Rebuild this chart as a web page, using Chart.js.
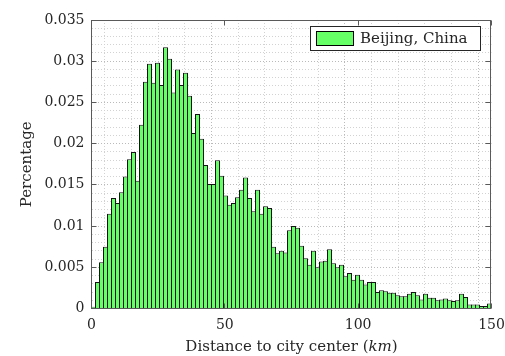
<!DOCTYPE html>
<html>
<head>
<meta charset="utf-8">
<script src="https://cdn.jsdelivr.net/npm/chart.js@4.4.1/dist/chart.umd.min.js"></script>
<style>
  html, body { margin: 0; padding: 0; background: #fff; }
  canvas { display: block; }
</style>
</head>
<body>
<canvas id="hist" width="505" height="356"></canvas>
<script>
const cityLabel = 'Beijing, China';

// bin centres (km), 1.5 km wide bins
const binCenters = [
  0.75, 2.25, 3.75, 5.25, 6.75, 8.25, 9.75, 11.25, 12.75, 14.25,
  15.75, 17.25, 18.75, 20.25, 21.75, 23.25, 24.75, 26.25, 27.75, 29.25,
  30.75, 32.25, 33.75, 35.25, 36.75, 38.25, 39.75, 41.25, 42.75, 44.25,
  45.75, 47.25, 48.75, 50.25, 51.75, 53.25, 54.75, 56.25, 57.75, 59.25,
  60.75, 62.25, 63.75, 65.25, 66.75, 68.25, 69.75, 71.25, 72.75, 74.25,
  75.75, 77.25, 78.75, 80.25, 81.75, 83.25, 84.75, 86.25, 87.75, 89.25,
  90.75, 92.25, 93.75, 95.25, 96.75, 98.25, 99.75, 101.25, 102.75, 104.25,
  105.75, 107.25, 108.75, 110.25, 111.75, 113.25, 114.75, 116.25, 117.75, 119.25,
  120.75, 122.25, 123.75, 125.25, 126.75, 128.25, 129.75, 131.25, 132.75, 134.25,
  135.75, 137.25, 138.75, 140.25, 141.75, 143.25, 144.75, 146.25, 147.75, 149.25
];

const share = [
  0.0002, 0.0032, 0.0056, 0.0075, 0.0115, 0.0134, 0.0128, 0.0141, 0.0160, 0.0181,
  0.0190, 0.0155, 0.0223, 0.0275, 0.0297, 0.0274, 0.0298, 0.0271, 0.0317, 0.0303,
  0.0262, 0.0290, 0.0271, 0.0286, 0.0258, 0.0213, 0.0236, 0.0206, 0.0174, 0.0151,
  0.0151, 0.0180, 0.0161, 0.0137, 0.0126, 0.0128, 0.0135, 0.0144, 0.0159, 0.0134,
  0.0118, 0.0144, 0.0115, 0.0124, 0.0122, 0.0075, 0.0067, 0.0070, 0.0068, 0.0095,
  0.0100, 0.0098, 0.0076, 0.0061, 0.0053, 0.0070, 0.0050, 0.0057, 0.0058, 0.0072,
  0.0055, 0.0050, 0.0053, 0.0039, 0.0043, 0.0035, 0.0041, 0.0035, 0.0029, 0.0032,
  0.0032, 0.0020, 0.0022, 0.0021, 0.0019, 0.0019, 0.0016, 0.0015, 0.0015, 0.0018,
  0.0020, 0.0016, 0.0011, 0.0018, 0.0013, 0.0013, 0.0010, 0.0011, 0.0012, 0.0010,
  0.0009, 0.0010, 0.0018, 0.0014, 0.0005, 0.0005, 0.0005, 0.0003, 0.0003, 0.0006
];

const xMajorTicks = [0, 50, 100, 150];
const yMajorTicks = [0, 0.005, 0.01, 0.015, 0.02, 0.025, 0.03, 0.035];
const yTickLabels = ['0', '0.005', '0.01', '0.015', '0.02', '0.025', '0.03', '0.035'];

const FONT = 'DejaVu Serif';
const TEXT = '#262626';
const BAR_FILL = '#66ff66';

function yMajorIndex(v) {
  return yMajorTicks.findIndex(t => Math.abs(t - v) < 1e-9);
}

function gridColor(isMajor) {
  return c => (c.tick && isMajor(c.tick.value)) ? '#bababa' : '#d2d2d2';
}

const crisp = v => Math.floor(v) + 0.5;

// box, inward ticks, italic x label, legend inside the axes
const matlabAxes = {
  id: 'matlabAxes',
  afterDraw(chart) {
    const { ctx, chartArea: a, scales } = chart;
    const L = crisp(a.left), R = crisp(a.right - 1), T = crisp(a.top), B = crisp(a.bottom);
    ctx.save();
    ctx.strokeStyle = '#5a5a5a';
    ctx.lineWidth = 1;
    ctx.strokeRect(L, T, R - L, B - T);

    ctx.beginPath();
    xMajorTicks.forEach(v => {
      const px = crisp(scales.x.getPixelForValue(v));
      ctx.moveTo(px, B); ctx.lineTo(px, B - 5);
      ctx.moveTo(px, T); ctx.lineTo(px, T + 5);
    });
    yMajorTicks.forEach(v => {
      const py = crisp(scales.y.getPixelForValue(v));
      ctx.moveTo(L, py); ctx.lineTo(L + 5, py);
      ctx.moveTo(R, py); ctx.lineTo(R - 5, py);
    });
    ctx.stroke();

    // x axis title with italic unit
    const parts = [
      ['Distance to city center (', 'normal'],
      ['km', 'italic'],
      [')', 'normal']
    ];
    let total = 0;
    parts.forEach(p => {
      ctx.font = `${p[1]} 15px ${FONT}`;
      p.push(ctx.measureText(p[0]).width);
      total += p[2];
    });
    let x = (a.left + a.right) / 2 - total / 2;
    ctx.fillStyle = TEXT;
    ctx.textBaseline = 'alphabetic';
    ctx.textAlign = 'left';
    parts.forEach(p => {
      ctx.font = `${p[1]} 15px ${FONT}`;
      ctx.fillText(p[0], x, 351);
      x += p[2];
    });

    // legend
    const ds = chart.data.datasets[0];
    ctx.font = `15px ${FONT}`;
    const tw = ctx.measureText(ds.label).width;
    const right = Math.floor(a.right) - 11;
    const top = Math.floor(a.top) + 6;
    const w = Math.round(6 + 37 + 7 + tw + 13);
    const left = right - w;
    ctx.fillStyle = '#fff';
    ctx.fillRect(left, top, w, 24);
    ctx.strokeStyle = '#262626';
    ctx.strokeRect(left + 0.5, top + 0.5, w, 24);
    ctx.fillStyle = ds.backgroundColor;
    ctx.fillRect(left + 6, top + 5, 37, 14);
    ctx.strokeStyle = '#000';
    ctx.strokeRect(left + 6.5, top + 5.5, 37, 14);
    ctx.fillStyle = TEXT;
    ctx.textBaseline = 'middle';
    ctx.fillText(ds.label, left + 50, top + 13);
    ctx.restore();
  }
};

new Chart(document.getElementById('hist'), {
  type: 'bar',
  data: {
    datasets: [{
      label: cityLabel,
      data: binCenters.map((x, i) => ({ x, y: share[i] })),
      backgroundColor: BAR_FILL,
      borderColor: '#141414',
      borderWidth: 1,
      borderSkipped: 'bottom',
      barPercentage: 1.25,
      categoryPercentage: 1
    }]
  },
  options: {
    responsive: false,
    animation: false,
    devicePixelRatio: 1,
    layout: { padding: { left: 0, right: 13.5, top: 20, bottom: 0 } },
    plugins: {
      legend: { display: false },
      tooltip: { enabled: false }
    },
    scales: {
      x: {
        type: 'linear',
        min: 0,
        max: 150,
        offset: false,
        afterFit: s => {
          s.height = 47.5;
          s.paddingLeft = 0;
          s.paddingRight = 0;
        },
        ticks: {
          stepSize: 10,
          autoSkip: false,
          maxRotation: 0,
          padding: 8,
          color: TEXT,
          font: { family: FONT, size: 14 },
          callback: v => xMajorTicks.includes(v) ? String(v) : ''
        },
        grid: {
          drawTicks: false,
          lineWidth: 1,
          color: gridColor(v => xMajorTicks.includes(v))
        },
        border: { display: false, dash: [1, 2] }
      },
      y: {
        min: 0,
        max: 0.035,
        afterFit: s => { s.width = 91.5; },
        ticks: {
          stepSize: 0.001,
          autoSkip: false,
          padding: 7,
          color: TEXT,
          font: { family: FONT, size: 14 },
          callback: v => {
            const i = yMajorIndex(v);
            return i >= 0 ? yTickLabels[i] : '';
          }
        },
        grid: {
          drawTicks: false,
          lineWidth: 1,
          color: gridColor(v => yMajorIndex(v) >= 0)
        },
        border: { display: false, dash: [1, 2] },
        title: {
          display: true,
          text: 'Percentage',
          color: TEXT,
          font: { family: FONT, size: 15 },
          padding: { top: 18, bottom: 0 }
        }
      }
    }
  },
  plugins: [matlabAxes]
});
</script>
</body>
</html>
